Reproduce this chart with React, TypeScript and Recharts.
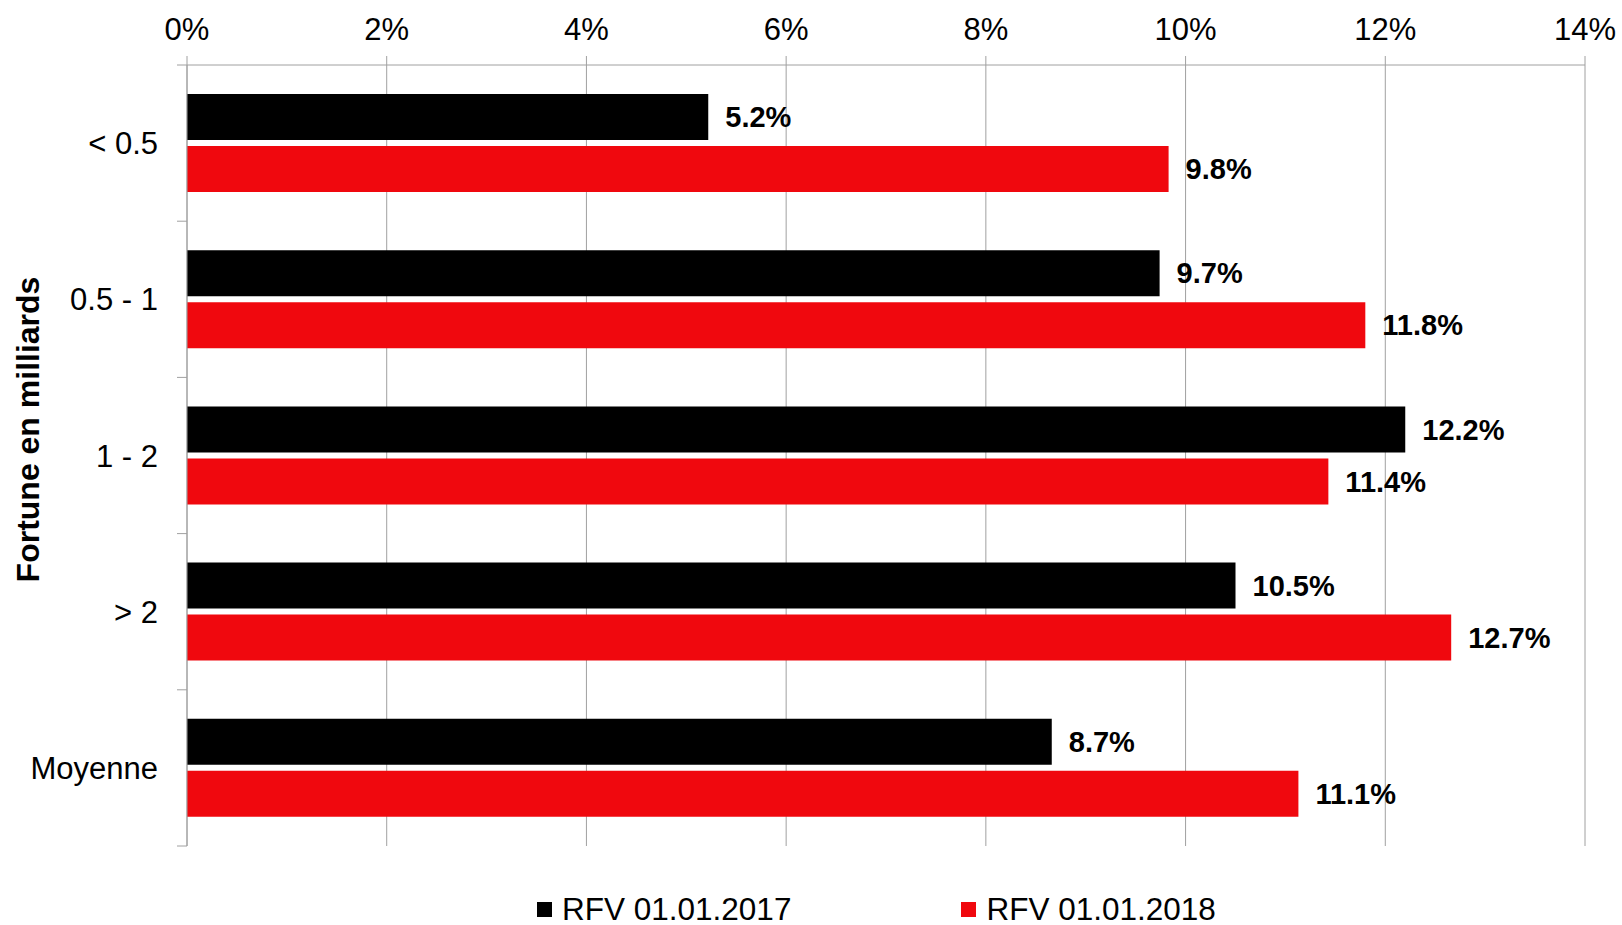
import React from "react";
import {
  BarChart,
  Bar,
  XAxis,
  YAxis,
  CartesianGrid,
  Legend,
  LabelList,
} from "recharts";

const categories = ["< 0.5", "0.5 - 1", "1 - 2", "> 2", "Moyenne"];
const rfv2017 = [5.22, 9.74, 12.2, 10.5, 8.66];
const rfv2018 = [9.83, 11.8, 11.43, 12.66, 11.13];
const xTicks = [0, 2, 4, 6, 8, 10, 12, 14];
const seriesNames = ["RFV 01.01.2017", "RFV 01.01.2018"];

const FONT = "'Liberation Sans', Arial, sans-serif";
const GRID = "#a0a0a0";
const BLACK = "#000000";
const RED = "#F0080E";

const data = categories.map((name, i) => ({
  name,
  a: rfv2017[i],
  b: rfv2018[i],
}));

const CategoryTick = (props: any) => {
  const { x, y, payload, index, visibleTicksCount } = props;
  const axisX = x + 29;
  const half = payload?.offset ?? 0;
  return (
    <g>
      <line x1={axisX - 10} x2={axisX} y1={y - half} y2={y - half} stroke={GRID} />
      {index === visibleTicksCount - 1 && (
        <line x1={axisX - 10} x2={axisX} y1={y + half} y2={y + half} stroke={GRID} />
      )}
      <text
        x={x}
        y={y}
        dy="0.355em"
        textAnchor="end"
        fill="#000"
        fontSize={31}
        fontFamily={FONT}
      >
        {payload.value}
      </text>
    </g>
  );
};

const YTitle = (props: any) => {
  const vb = props.viewBox || { x: 0, y: 57, width: 179, height: 781 };
  const cx = vb.x + 20;
  const cy = vb.y + vb.height / 2 - 26;
  return (
    <text
      x={cx}
      y={cy}
      transform={`rotate(-90 ${cx} ${cy})`}
      textAnchor="middle"
      dominantBaseline="central"
      fontWeight="bold"
      fontSize={32}
      fontFamily={FONT}
      fill="#000"
    >
      Fortune en milliards
    </text>
  );
};

const LegendContent = () => {
  const colors = [BLACK, RED];
  return (
    <div
      style={{
        display: "flex",
        alignItems: "center",
        paddingLeft: 529,
        fontFamily: FONT,
        fontSize: 31.5,
        lineHeight: "31px",
        color: "#000",
        whiteSpace: "nowrap",
      }}
    >
      {seriesNames.map((n, i) => (
        <div
          key={n}
          style={{ display: "flex", alignItems: "center", marginRight: i === 0 ? 170 : 0 }}
        >
          <span
            style={{
              display: "inline-block",
              width: 15,
              height: 15,
              background: colors[i],
              marginRight: 10,
            }}
          />
          <span>{n}</span>
        </div>
      ))}
    </div>
  );
};

export default function App() {
  return (
    <div style={{ width: 1622, height: 925, overflow: "hidden", position: "relative" }}>
      <style>{"body { margin: 0; }"}</style>
      <div style={{ position: "absolute", left: 8, top: 8 }}>
        <BarChart
          width={1614}
          height={917}
          data={data}
          layout="vertical"
          margin={{ top: 0, right: 37, bottom: 79, left: 0 }}
          barSize={46}
          barGap={6}
        >
          <CartesianGrid horizontal={false} stroke={GRID} />
          <XAxis
            type="number"
            orientation="top"
            domain={[0, 14]}
            ticks={xTicks}
            tickFormatter={(v: number) => `${v}%`}
            height={57}
            axisLine={{ stroke: GRID }}
            tickLine={{ stroke: GRID }}
            tickSize={9}
            tickMargin={16}
            tick={{ fill: "#000", fontSize: 31, fontFamily: FONT }}
            interval={0}
          />
          <YAxis
            type="category"
            dataKey="name"
            width={179}
            axisLine={{ stroke: GRID }}
            tickLine={false}
            tickSize={10}
            tickMargin={19}
            tick={<CategoryTick />}
            interval={0}
            label={{ content: <YTitle /> } as any}
          />
          <Legend
            layout="horizontal"
            verticalAlign="middle"
            align="center"
            content={<LegendContent />}
            wrapperStyle={{ top: 886, left: 0, width: 1614 }}
          />
          <Bar dataKey="a" name={seriesNames[0]} fill={BLACK} isAnimationActive={false}>
            <LabelList
              dataKey="a"
              position="right"
              offset={17}
              formatter={(v: any) => `${Number(v).toFixed(1)}%`}
              style={{ fontWeight: "bold", fontSize: 29, fontFamily: FONT, fill: "#000" }}
            />
          </Bar>
          <Bar dataKey="b" name={seriesNames[1]} fill={RED} isAnimationActive={false}>
            <LabelList
              dataKey="b"
              position="right"
              offset={17}
              formatter={(v: any) => `${Number(v).toFixed(1)}%`}
              style={{ fontWeight: "bold", fontSize: 29, fontFamily: FONT, fill: "#000" }}
            />
          </Bar>
        </BarChart>
      </div>
    </div>
  );
}
